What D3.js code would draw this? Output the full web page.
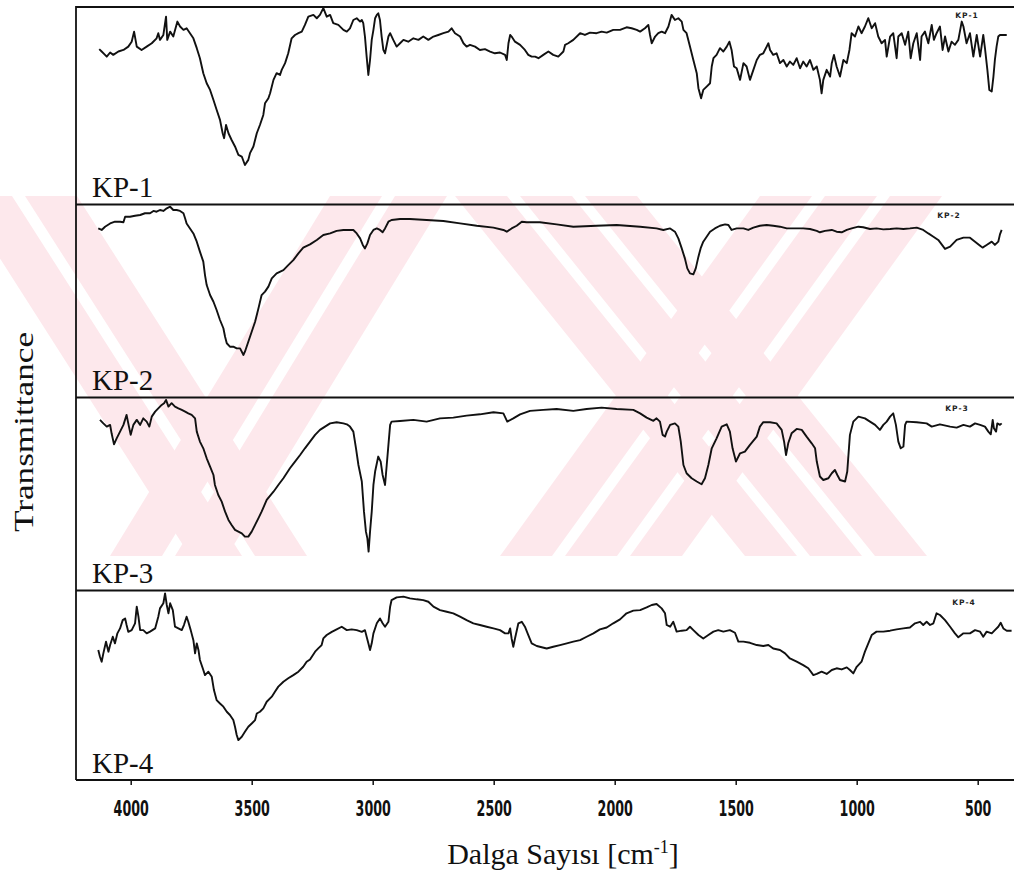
<!DOCTYPE html>
<html>
<head>
<meta charset="utf-8">
<script src="https://cdn.jsdelivr.net/npm/d3@7"></script>
<style>
  html, body { margin: 0; padding: 0; background: #fff; }
  svg { display: block; }
</style>
</head>
<body>
<svg id="chart" width="1014" height="876"></svg>
<script>
// FTIR spectra of four samples, stacked panels sharing one wavenumber axis.
// Each series: [wavenumber (cm-1), relative transmittance (0-100 within its panel)]

const sampleNames = ["KP-1", "KP-2", "KP-3", "KP-4"];
const xTicks = [4000, 3500, 3000, 2500, 2000, 1500, 1000, 500];

const kp1 = [
  [4130,78.6],[4120,77.4],[4106,75.7],[4099,74.8],[4085,76.9],[4072,75.7],[4051,77.4],[4030,78.2],
  [4010,79.9],[3996,82.4],[3986,87.5],[3975,79.9],[3955,78.2],[3934,79.9],[3913,81.6],[3893,84.1],
  [3886,86.7],[3879,83.3],[3865,85.8],[3854,95.1],[3849,83.3],[3837,87.5],[3824,85.0],[3807,92.6],
  [3796,90.1],[3782,88.4],[3769,89.2],[3755,86.7],[3741,84.1],[3727,79.1],[3714,74.0],[3700,66.4],
  [3686,61.3],[3672,57.9],[3658,52.8],[3645,47.8],[3631,42.7],[3620,35.9],[3614,33.4],[3606,40.1],
  [3596,35.9],[3583,32.5],[3569,29.2],[3555,24.9],[3541,24.1],[3528,19.8],[3514,22.4],[3507,25.8],
  [3493,29.2],[3479,35.9],[3466,40.1],[3452,45.2],[3445,51.1],[3431,53.7],[3424,56.2],[3410,63.0],
  [3397,66.4],[3383,65.5],[3376,68.1],[3362,71.5],[3349,76.5],[3335,84.1],[3321,85.8],[3307,86.7],
  [3293,87.5],[3280,90.9],[3266,95.1],[3245,96.0],[3231,94.3],[3218,96.0],[3204,99.4],[3190,95.1],
  [3176,96.0],[3163,91.8],[3142,90.9],[3121,88.4],[3107,87.5],[3094,89.2],[3080,93.4],[3066,94.3],
  [3052,92.6],[3045,93.4],[3039,91.8],[3032,85.0],[3025,74.8],[3018,65.5],[3011,73.1],[3004,83.3],
  [2997,88.4],[2990,94.3],[2983,96.0],[2977,96.8],[2970,93.4],[2963,85.0],[2956,78.2],[2949,76.5],
  [2935,85.0],[2928,86.7],[2915,83.3],[2901,79.9],[2887,81.6],[2873,83.3],[2853,82.4],[2832,84.1],
  [2811,83.3],[2791,85.0],[2770,83.3],[2749,85.0],[2729,85.8],[2708,86.7],[2687,87.5],[2674,89.2],
  [2660,86.7],[2639,85.0],[2625,81.6],[2612,79.9],[2598,80.8],[2577,79.9],[2557,78.2],[2536,78.6],
  [2515,77.4],[2495,76.5],[2474,76.9],[2453,75.7],[2446,73.1],[2439,81.6],[2432,85.8],[2426,85.0],
  [2412,82.4],[2391,80.8],[2371,78.2],[2357,75.7],[2343,74.8],[2329,74.8],[2315,74.0],[2295,75.7],
  [2274,77.4],[2254,75.7],[2233,74.8],[2212,77.4],[2205,80.8],[2192,81.6],[2171,83.3],[2143,86.7],
  [2123,85.8],[2102,87.0],[2075,86.7],[2054,87.5],[2033,87.0],[2006,88.4],[1978,88.4],[1951,89.7],
  [1930,89.2],[1909,88.4],[1895,87.5],[1875,89.2],[1861,90.9],[1854,85.8],[1847,81.6],[1833,85.0],
  [1820,86.7],[1806,87.5],[1792,86.7],[1778,90.1],[1765,96.0],[1751,93.4],[1737,94.3],[1723,92.6],
  [1716,88.4],[1703,86.7],[1689,79.9],[1675,73.1],[1661,66.4],[1654,58.8],[1643,53.7],[1634,57.9],
  [1620,59.6],[1606,61.3],[1599,69.8],[1592,74.0],[1579,75.7],[1565,79.1],[1551,77.4],[1537,79.9],
  [1526,82.4],[1517,78.2],[1507,69.8],[1496,68.9],[1482,63.0],[1468,71.5],[1455,69.8],[1441,63.0],
  [1427,68.1],[1413,73.1],[1400,75.7],[1386,76.5],[1372,79.9],[1365,81.6],[1358,78.2],[1345,75.7],
  [1331,76.5],[1317,71.5],[1303,73.1],[1289,69.8],[1276,72.3],[1262,70.6],[1248,74.0],[1234,68.9],
  [1221,72.3],[1207,69.8],[1193,73.1],[1179,68.1],[1165,69.8],[1152,63.0],[1145,56.2],[1138,63.0],
  [1124,68.1],[1110,64.7],[1103,71.5],[1094,75.7],[1083,69.8],[1069,64.7],[1055,73.1],[1041,71.5],
  [1030,78.2],[1021,86.7],[1007,85.0],[993,90.1],[980,86.7],[966,90.1],[952,94.3],[938,89.2],
  [924,91.8],[911,85.0],[897,81.6],[883,83.3],[876,74.8],[862,85.0],[849,86.7],[835,74.0],
  [828,85.0],[814,86.7],[800,80.8],[787,87.5],[777,74.0],[766,81.6],[752,86.7],[738,73.1],
  [732,85.0],[718,87.5],[704,81.6],[690,90.9],[681,83.3],[670,86.7],[656,90.1],[645,78.2],
  [635,85.0],[621,77.4],[608,82.4],[594,80.8],[580,83.3],[566,92.6],[559,90.1],[546,81.6],
  [532,86.7],[518,74.8],[504,85.8],[490,74.8],[477,85.8],[470,79.1],[460,68.1],[452,57.9],
  [442,57.1],[435,64.7],[429,73.1],[422,79.9],[415,85.0],[408,85.8],[380,85.8]
];

const kp2 = [
  [4134,87.8],[4120,87.0],[4106,88.7],[4085,90.4],[4065,91.3],[4044,91.3],[4030,91.0],[4023,93.9],
  [4003,93.9],[3982,94.4],[3961,94.8],[3941,95.7],[3920,95.7],[3906,96.9],[3893,96.5],[3879,97.4],
  [3865,96.9],[3851,98.3],[3837,99.1],[3824,97.4],[3810,97.4],[3796,96.9],[3782,95.7],[3775,93.0],
  [3769,90.4],[3755,87.8],[3741,85.2],[3727,80.9],[3714,75.7],[3700,70.5],[3693,63.5],[3686,58.3],
  [3672,53.1],[3658,49.6],[3645,45.3],[3631,40.1],[3617,35.8],[3610,31.4],[3603,28.0],[3590,26.2],
  [3576,26.2],[3562,25.3],[3548,25.3],[3534,21.9],[3528,23.6],[3514,28.8],[3500,34.0],[3486,39.2],
  [3472,46.2],[3459,53.1],[3445,54.9],[3431,57.5],[3417,61.8],[3397,64.4],[3369,66.1],[3349,68.7],
  [3328,71.3],[3307,74.8],[3287,77.8],[3259,79.5],[3231,81.8],[3204,84.4],[3176,85.2],[3149,86.5],
  [3121,87.0],[3094,87.0],[3080,87.0],[3066,85.2],[3052,82.6],[3041,79.2],[3032,77.4],[3022,80.0],
  [3011,84.4],[2997,87.0],[2983,87.8],[2970,87.0],[2959,85.8],[2949,87.8],[2935,91.3],[2922,92.2],
  [2887,92.7],[2846,92.7],[2777,92.2],[2708,91.7],[2639,90.4],[2570,89.2],[2501,88.2],[2460,87.0],
  [2446,86.1],[2426,87.8],[2405,89.2],[2384,91.3],[2364,91.0],[2309,91.0],[2240,89.9],[2171,88.7],
  [2075,89.2],[1992,89.6],[1895,88.7],[1827,87.8],[1799,87.0],[1771,87.8],[1751,86.1],[1737,82.6],
  [1723,77.4],[1710,72.2],[1700,67.0],[1689,64.4],[1675,63.9],[1665,67.0],[1654,73.1],[1645,77.4],
  [1634,80.9],[1620,83.5],[1606,86.1],[1586,87.8],[1565,89.2],[1544,89.9],[1530,89.6],[1517,87.0],
  [1496,87.8],[1468,87.8],[1448,87.0],[1427,88.2],[1400,89.2],[1372,89.6],[1345,89.2],[1317,88.7],
  [1289,87.8],[1262,87.8],[1221,87.8],[1193,87.5],[1165,86.5],[1152,85.8],[1131,86.5],[1103,87.0],
  [1083,86.1],[1062,85.8],[1041,87.0],[1021,87.8],[993,88.7],[973,88.4],[945,87.5],[918,87.8],
  [890,87.3],[862,87.5],[835,87.8],[807,87.5],[780,87.8],[752,88.2],[725,87.0],[704,85.2],
  [683,83.5],[663,81.8],[642,78.3],[635,77.1],[614,78.3],[587,81.8],[559,83.0],[532,83.0],
  [511,80.9],[490,78.8],[480,77.8],[463,79.2],[442,80.9],[429,79.2],[415,80.9],[408,84.7],[401,87.0]
];

const kp3 = [
  [4127,88.6],[4113,86.8],[4099,85.1],[4085,86.0],[4079,81.6],[4069,75.9],[4058,79.0],[4044,82.5],
  [4030,86.0],[4017,91.2],[4010,86.8],[4000,80.8],[3989,86.0],[3975,88.6],[3961,86.0],[3948,89.4],
  [3934,87.7],[3923,85.1],[3913,90.3],[3899,92.9],[3886,94.6],[3872,96.4],[3862,97.3],[3854,99.0],
  [3844,95.5],[3831,97.3],[3817,95.5],[3803,94.6],[3789,93.8],[3775,92.9],[3762,92.0],[3748,91.2],
  [3734,89.4],[3727,82.5],[3714,77.3],[3700,73.8],[3686,68.6],[3672,64.3],[3658,59.9],[3652,54.7],
  [3638,49.5],[3624,46.0],[3610,40.8],[3596,36.5],[3583,33.9],[3569,31.3],[3555,30.4],[3541,29.5],
  [3528,27.8],[3514,27.8],[3500,30.4],[3486,33.9],[3472,37.4],[3459,40.8],[3438,46.9],[3410,51.2],
  [3390,54.7],[3369,58.2],[3342,63.4],[3321,66.9],[3300,70.3],[3280,73.8],[3259,77.3],[3238,80.8],
  [3218,83.4],[3197,85.1],[3176,86.8],[3149,87.4],[3121,86.8],[3107,86.3],[3094,85.1],[3080,82.5],
  [3069,73.8],[3059,65.1],[3045,56.5],[3036,40.8],[3028,30.4],[3022,26.9],[3017,20.0],[3011,30.4],
  [3004,40.8],[2997,54.7],[2990,61.7],[2977,69.5],[2967,66.9],[2959,59.9],[2949,54.7],[2942,65.1],
  [2935,75.6],[2928,86.0],[2922,87.7],[2887,88.0],[2832,88.6],[2777,87.7],[2722,89.4],[2667,89.8],
  [2612,90.8],[2557,91.5],[2501,92.6],[2460,92.0],[2444,87.7],[2419,89.4],[2391,91.5],[2350,93.3],
  [2295,93.8],[2240,94.3],[2171,93.3],[2116,94.3],[2054,95.0],[1992,94.3],[1923,93.8],[1895,92.0],
  [1868,89.8],[1840,88.1],[1827,89.4],[1813,87.7],[1802,80.8],[1792,79.9],[1785,82.5],[1771,86.0],
  [1751,86.8],[1737,85.1],[1727,77.3],[1716,65.1],[1703,60.8],[1682,58.2],[1661,56.5],[1641,55.1],
  [1627,58.2],[1613,65.1],[1599,73.8],[1579,79.0],[1558,85.1],[1537,86.3],[1524,82.5],[1513,73.8],
  [1499,66.9],[1482,71.2],[1462,72.1],[1441,75.6],[1413,79.9],[1400,85.1],[1386,87.4],[1358,87.4],
  [1331,86.8],[1310,83.4],[1300,77.3],[1292,70.3],[1283,76.4],[1269,81.6],[1248,83.9],[1227,83.4],
  [1207,79.9],[1186,76.4],[1172,73.8],[1165,66.9],[1152,59.1],[1138,57.3],[1117,58.2],[1103,60.8],
  [1090,62.5],[1080,59.9],[1069,57.3],[1048,56.5],[1039,61.7],[1028,80.8],[1014,87.7],[993,90.3],
  [966,89.4],[945,87.7],[924,86.0],[904,83.4],[890,86.0],[876,87.7],[862,90.3],[849,92.0],
  [838,86.0],[828,77.3],[818,73.8],[807,74.7],[800,86.0],[794,87.7],[752,87.4],[711,86.8],
  [690,85.1],[656,86.3],[614,85.1],[587,84.6],[559,86.0],[532,85.1],[511,86.8],[490,86.0],
  [470,85.1],[456,82.5],[446,81.1],[438,88.6],[433,84.2],[424,82.5],[419,86.8],[408,86.0],[401,86.8]
];

const kp4 = [
  [4134,68.8],[4127,65.2],[4120,62.6],[4113,67.0],[4102,73.2],[4092,67.9],[4085,71.4],[4074,75.8],
  [4065,72.3],[4055,77.6],[4044,80.2],[4033,84.6],[4023,85.5],[4017,82.0],[4010,78.4],[3996,79.3],
  [3982,82.9],[3975,91.7],[3968,86.4],[3961,79.3],[3948,79.3],[3934,77.6],[3920,78.5],[3899,80.2],
  [3886,86.4],[3879,90.8],[3865,93.5],[3858,98.7],[3851,92.6],[3844,88.2],[3837,93.5],[3826,89.9],
  [3817,81.1],[3803,80.2],[3789,79.3],[3780,82.0],[3769,86.4],[3762,83.7],[3752,79.3],[3741,74.0],
  [3734,67.0],[3727,72.3],[3720,68.8],[3714,63.5],[3702,59.0],[3693,55.5],[3679,57.3],[3665,54.6],
  [3656,47.6],[3645,42.3],[3631,40.5],[3617,38.8],[3603,36.1],[3590,34.4],[3576,31.7],[3569,28.2],
  [3562,23.8],[3555,21.1],[3541,22.9],[3528,25.5],[3514,28.2],[3500,29.9],[3486,31.7],[3479,35.2],
  [3466,36.1],[3452,37.9],[3438,41.4],[3417,44.1],[3404,46.7],[3390,49.4],[3369,52.0],[3349,53.8],
  [3328,55.5],[3307,57.3],[3287,59.9],[3273,62.6],[3259,63.8],[3238,67.9],[3225,69.6],[3211,71.4],
  [3204,74.9],[3190,76.7],[3169,78.4],[3149,79.7],[3128,81.1],[3107,79.3],[3087,79.7],[3066,79.3],
  [3045,78.4],[3032,79.3],[3025,75.8],[3018,72.3],[3011,68.8],[3004,72.3],[2997,77.6],[2983,82.9],
  [2970,85.5],[2959,82.9],[2949,81.1],[2935,83.7],[2928,91.7],[2922,95.2],[2901,96.6],[2873,97.0],
  [2846,96.1],[2818,95.6],[2791,95.2],[2770,94.3],[2749,91.7],[2722,89.9],[2694,89.0],[2667,88.2],
  [2639,86.4],[2612,84.6],[2584,82.9],[2557,82.0],[2529,81.1],[2501,80.2],[2474,79.3],[2453,77.6],
  [2439,77.6],[2432,80.2],[2426,74.9],[2419,70.5],[2412,74.9],[2398,82.9],[2384,83.7],[2371,81.1],
  [2357,76.7],[2343,72.3],[2322,70.9],[2281,69.6],[2254,70.5],[2226,71.4],[2198,72.3],[2171,73.2],
  [2143,74.0],[2116,75.8],[2088,77.6],[2061,79.7],[2033,80.7],[2006,82.9],[1978,85.0],[1951,88.2],
  [1923,89.6],[1895,89.9],[1868,91.3],[1847,92.6],[1827,93.1],[1806,90.8],[1792,88.2],[1785,82.0],
  [1771,81.1],[1758,83.7],[1744,78.5],[1723,79.0],[1703,79.3],[1689,81.1],[1675,79.3],[1654,76.7],
  [1634,74.9],[1613,76.7],[1592,78.5],[1572,79.3],[1551,78.5],[1524,79.3],[1503,77.9],[1489,73.2],
  [1468,73.2],[1441,72.6],[1413,71.4],[1386,70.9],[1365,71.4],[1345,69.6],[1317,68.8],[1296,67.0],
  [1276,64.3],[1248,62.6],[1221,60.8],[1200,59.1],[1179,55.5],[1165,56.1],[1145,57.3],[1124,56.1],
  [1103,58.2],[1083,59.1],[1062,58.5],[1041,59.6],[1028,58.2],[1014,56.4],[1000,59.9],[980,62.6],
  [966,67.9],[952,72.3],[938,76.7],[918,78.5],[890,78.5],[862,79.0],[835,79.7],[807,80.2],
  [780,80.7],[759,82.9],[738,83.7],[725,82.0],[711,83.7],[697,82.0],[683,82.9],[670,88.2],
  [656,87.3],[635,84.6],[614,81.1],[594,77.6],[580,75.5],[559,77.6],[532,77.6],[511,79.3],
  [490,78.5],[477,75.8],[463,78.5],[442,77.6],[429,79.3],[415,81.1],[405,83.2],[394,80.2],
  [380,79.0],[360,79.0]
];

const series = [kp1, kp2, kp3, kp4];

const svg = d3.select("#chart");

// Frame geometry
const frameLeft = 76, frameRight = 1020;
const panelBounds = [[7, 204], [205, 397], [398, 590], [591, 780]];
const axisY = 780;

const x = d3.scaleLinear().domain([4000, 500]).range([130.7, 977.7]);

// Faint background watermark (diagonal striped bands)
const wm = svg.append("g").attr("fill", "#fde8ec").attr("stroke", "none");
const wmTop = 196, wmBottom = 556;
const wmBands = [
  // [x at top, x at bottom, width]
  [-40, 190, 52], [25, 255, 52],
  [330, 110, 52], [395, 175, 52],
  [455, 745, 52], [520, 810, 52], [585, 875, 52],
  [760, 500, 52], [825, 565, 52], [890, 630, 52]
];
wmBands.forEach(([xt, xb, w]) => {
  wm.append("polygon").attr("points",
    `${xt},${wmTop} ${xt + w},${wmTop} ${xb + w},${wmBottom} ${xb},${wmBottom}`);
});

// Spectra
const line = d3.line().curve(d3.curveLinear);
series.forEach((data, i) => {
  const [top, bottom] = panelBounds[i];
  const y = d3.scaleLinear().domain([0, 100]).range([bottom, top]);
  svg.append("path")
    .datum(data)
    .attr("fill", "none")
    .attr("stroke", "#111")
    .attr("stroke-width", 1.9)
    .attr("stroke-linejoin", "round")
    .attr("d", line.x(d => x(d[0])).y(d => y(d[1])));

  // large sample label, lower-left of each panel
  svg.append("text")
    .attr("x", 92)
    .attr("y", bottom - 7)
    .attr("font-family", "'Liberation Serif', 'Times New Roman', serif")
    .attr("font-size", 29)
    .attr("fill", "#111")
    .text(sampleNames[i]);

  // small instrument tag, upper-right of each panel
  svg.append("text")
    .attr("x", [967, 949, 957, 964][i])
    .attr("y", top + [11, 13, 13, 14][i])
    .attr("text-anchor", "middle")
    .attr("font-family", "'DejaVu Sans', sans-serif")
    .attr("font-weight", "bold")
    .attr("font-size", 7.5)
    .attr("letter-spacing", 1)
    .attr("fill", "#222")
    .text(sampleNames[i]);
});

// Frame: left edge, top edge, panel separators and bottom axis line
const frame = svg.append("g").attr("stroke", "#111").attr("stroke-width", 1.8).attr("fill", "none");
frame.append("line").attr("x1", frameLeft).attr("x2", frameLeft).attr("y1", 6).attr("y2", axisY);
[7, 204.5, 397.5, 590.5].forEach(yy => {
  frame.append("line").attr("x1", frameLeft).attr("x2", frameRight).attr("y1", yy).attr("y2", yy);
});

// Bottom wavenumber axis
const xAxis = d3.axisBottom(x)
  .tickValues(xTicks)
  .tickSize(5)
  .tickSizeOuter(0)
  .tickPadding(16)
  .tickFormat(d3.format("d"));

const axisG = svg.append("g")
  .attr("transform", `translate(0,${axisY})`)
  .call(xAxis);
axisG.select(".domain").remove();
axisG.append("line").attr("x1", frameLeft).attr("x2", frameRight)
  .attr("stroke", "#111").attr("stroke-width", 1.8);
axisG.selectAll(".tick line").attr("stroke", "#111").attr("stroke-width", 1.5);
axisG.selectAll(".tick text")
  .attr("fill", "#111")
  .attr("font-family", "'DejaVu Sans Condensed', 'Liberation Sans Narrow', sans-serif")
  .attr("font-weight", "bold")
  .attr("font-size", 21)
  .attr("textLength", d => String(d).length * 8.8)
  .attr("lengthAdjust", "spacingAndGlyphs");

// Axis titles
const title = svg.append("text")
  .attr("x", 563)
  .attr("y", 864)
  .attr("text-anchor", "middle")
  .attr("font-family", "'Liberation Serif', 'Times New Roman', serif")
  .attr("font-size", 30)
  .attr("fill", "#111");
title.append("tspan").text("Dalga Sayısı [cm");
title.append("tspan").attr("dy", -11).attr("font-size", 18).text("-1");
title.append("tspan").attr("dy", 11).text("]");

svg.append("text")
  .attr("transform", "translate(33,432) rotate(-90)")
  .attr("text-anchor", "middle")
  .attr("font-family", "'Liberation Serif', 'Times New Roman', serif")
  .attr("font-size", 28)
  .attr("textLength", 200)
  .attr("lengthAdjust", "spacingAndGlyphs")
  .attr("fill", "#111")
  .text("Transmittance");
</script>
</body>
</html>
